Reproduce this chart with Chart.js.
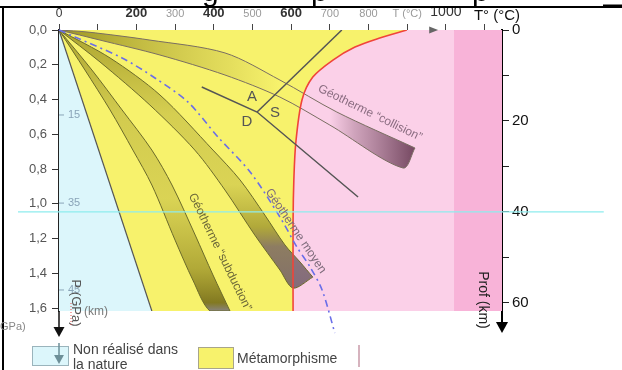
<!DOCTYPE html>
<html>
<head>
<meta charset="utf-8">
<script src="https://cdn.jsdelivr.net/npm/chart.js@4/dist/chart.umd.min.js"></script>
<style>
    html, body { margin: 0; padding: 0; background: #fff; }
</style>
</head>
<body>
<canvas id="chart" width="622" height="370"></canvas>
<script>
//======================================================================================================================
// Data (T in °C, P in GPa, depth in km)
//======================================================================================================================

    var tempTicks   = [0, 100, 200, 300, 400, 500, 600, 700, 800, 900, 1000, 1100];
    var tempLabels  = ['0', '', '200', '300', '400', '500', '600', '700', '800', 'T (°C)', '1000', ''];
    var pressTicks  = [0, 0.2, 0.4, 0.6, 0.8, 1.0, 1.2, 1.4, 1.6];
    var pressLabels = ['0,0', '0,2', '0,4', '0,6', '0,8', '1,0', '1,2', '1,4', '1,6'];
    var depthTicks  = [0, 10, 20, 30, 40, 50, 60];
    var depthLabels = ['0', '', '20', '', '40', '', '60'];
    var innerKm     = [['15', 0.489], ['35', 0.996], ['45', 1.496]];

    var solidus        = [[899, 0], [829, 0.046], [765, 0.098], [708, 0.173], [656, 0.271], [628, 0.403], [612, 0.650], [607, 0.863], [605, 1.094], [605, 1.617]];
    var nonRealised    = [[0, 0], [240, 1.617]];
    var geothermMoyen  = [[0, 0], [41, 0.040], [163, 0.161], [248, 0.276], [333, 0.414], [411, 0.616], [494, 0.817], [571, 1.076], [615, 1.249], [649, 1.364], [680, 1.496], [713, 1.744]];
    var collisionUpper = [[0, 0], [75, 0.012], [235, 0.058], [429, 0.132], [571, 0.288], [718, 0.472], [920, 0.679]];
    var collisionLower = [[0, 0], [106, 0.058], [261, 0.144], [429, 0.259], [571, 0.386], [700, 0.547], [889, 0.794], [920, 0.679]];
    var moyenUpper     = [[0, 0], [132, 0.161], [261, 0.374], [398, 0.691], [468, 0.863], [532, 1.065], [584, 1.237], [623, 1.335], [656, 1.422]];
    var moyenLower     = [[0, 0], [106, 0.184], [235, 0.432], [351, 0.691], [429, 0.921], [506, 1.180], [571, 1.381], [605, 1.485], [656, 1.422]];
    var subductUpper   = [[0, 0], [85, 0.230], [163, 0.460], [240, 0.691], [292, 0.892], [352, 1.180], [398, 1.410], [442, 1.617]];
    var subductLower   = [[0, 0], [67, 0.230], [132, 0.460], [191, 0.691], [240, 0.892], [300, 1.209], [346, 1.439], [390, 1.617], [442, 1.617]];
    var asdLine1       = [[369, 0.328], [512, 0.472], [773, 0.961]];
    var asdLine2       = [[512, 0.472], [731, 0]];
    var asdLabels      = [['A', 499, 0.386], ['S', 558, 0.478], ['D', 486, 0.530]];
    var geoLabels      = [
        ['Géotherme “collision”', 804, 0.478, 26, '#8a6c80'],
        ['Géotherme moyen', 612, 1.157, 56, '#7d6a7a'],
        ['Géotherme “subduction”', 416, 1.278, 64, '#6b6738']
    ];
    var moho = 40;

    var T_MAX = 1145, P_MAX = 1.617, D_MAX = 61.8;

    function pts(arr) {
        return arr.map(function(p) { return {x: p[0], y: p[1]}; });
    }

//======================================================================================================================
// Gradients
//======================================================================================================================

    function hGrad(chart, t0, t1, stops) {
        var xs = chart.scales.x;
        var g = chart.ctx.createLinearGradient(xs.getPixelForValue(t0), 0, xs.getPixelForValue(t1), 0);
        stops.forEach(function(s) { g.addColorStop(s[0], s[1]); });
        return g;
    }

    function vGrad(chart, stops) {
        var ys = chart.scales.y;
        var g = chart.ctx.createLinearGradient(0, ys.getPixelForValue(0), 0, ys.getPixelForValue(P_MAX));
        stops.forEach(function(s) { g.addColorStop(s[0], s[1]); });
        return g;
    }

    function ready(ctx) {
        return ctx.chart.chartArea && ctx.chart.scales.x && ctx.chart.scales.y;
    }

    function collisionFill(ctx) {
        if (!ready(ctx)) return 'transparent';
        return hGrad(ctx.chart, 0, 920, [
            [0, 'rgba(140,132,20,0.85)'], [0.22, 'rgba(150,140,30,0.55)'], [0.48, 'rgba(160,150,40,0.22)'],
            [0.62, 'rgba(160,150,40,0)'], [0.76, 'rgba(125,80,105,0)'], [0.83, 'rgba(125,80,105,0.35)'],
            [1, 'rgba(110,65,90,0.95)']
        ]);
    }

    function moyenFill(ctx) {
        if (!ready(ctx)) return 'transparent';
        return vGrad(ctx.chart, [
            [0, 'rgba(140,130,20,0.7)'], [0.3, 'rgba(150,140,30,0.35)'], [0.55, 'rgba(150,140,30,0.3)'],
            [0.7, 'rgba(130,120,25,0.6)'], [0.77, 'rgba(115,95,95,0.8)'], [1, 'rgba(110,90,110,0.9)']
        ]);
    }

    function subductFill(ctx) {
        if (!ready(ctx)) return 'transparent';
        return vGrad(ctx.chart, [
            [0, 'rgba(140,130,20,0.7)'], [0.3, 'rgba(150,140,30,0.38)'], [0.6, 'rgba(150,140,30,0.3)'],
            [0.85, 'rgba(130,120,20,0.6)'], [0.97, 'rgba(110,100,20,0.85)'], [1, 'rgba(125,120,130,0.9)']
        ]);
    }

//======================================================================================================================
// Overlay: frame, labels, arrows, legend
//======================================================================================================================

    function rotText(c, txt, x, y, deg, font, color) {
        c.save();
        c.translate(x, y);
        c.rotate(deg * Math.PI / 180);
        c.font = font;
        c.fillStyle = color;
        c.textAlign = 'center';
        c.textBaseline = 'middle';
        c.fillText(txt, 0, 0);
        c.restore();
    }

    function arrowDown(c, x, y0, y1, color, lw, head) {
        c.save();
        c.strokeStyle = color;
        c.fillStyle = color;
        c.lineWidth = lw;
        c.beginPath();
        c.moveTo(x, y0);
        c.lineTo(x, y1 - head);
        c.stroke();
        c.beginPath();
        c.moveTo(x - head * 0.55, y1 - head);
        c.lineTo(x + head * 0.55, y1 - head);
        c.lineTo(x, y1);
        c.closePath();
        c.fill();
        c.restore();
    }

    var overlay = {
        id: 'overlay',
        beforeDraw: function(chart) {
            var c = chart.ctx;
            c.save();
            c.fillStyle = '#fff';
            c.fillRect(0, 0, chart.width, chart.height);
            c.restore();
        },
        afterDraw: function(chart) {
            var c = chart.ctx;
            var xs = chart.scales.x, ys = chart.scales.y;
            var a = chart.chartArea;

            c.save();

            // cut-off title and frame
            c.fillStyle = '#000';
            c.font = '30px Arial';
            c.textAlign = 'left';
            c.textBaseline = 'alphabetic';
            c.fillText('g', 202, 1);
            c.fillText('p', 311, 1);
            c.fillText('p', 472, 1);
            c.strokeStyle = '#000';
            c.lineWidth = 2;
            c.beginPath();
            c.moveTo(0, 7); c.lineTo(622, 7);
            c.moveTo(3, 7); c.lineTo(3, 370);
            c.stroke();
            c.lineWidth = 3;
            c.beginPath();
            c.moveTo(603, 6); c.lineTo(622, 6);
            c.stroke();

            // top axis extras
            c.font = '15px Arial';
            c.fillStyle = '#111';
            c.textAlign = 'center';
            c.textBaseline = 'middle';
            c.fillText('T° (°C)', 497, 16);
            c.fillStyle = '#666';
            c.beginPath();
            var ax = xs.getPixelForValue(980);
            c.moveTo(ax, a.top); c.lineTo(ax - 9, a.top - 3.5); c.lineTo(ax - 9, a.top + 3.5);
            c.closePath();
            c.fill();

            // inner km marks on the pressure axis
            c.font = '11px Arial';
            c.textAlign = 'left';
            c.strokeStyle = '#8aa4b8';
            c.fillStyle = '#8aa4b8';
            c.lineWidth = 1;
            innerKm.forEach(function(k) {
                var y = ys.getPixelForValue(k[1]);
                c.beginPath(); c.moveTo(a.left, y); c.lineTo(a.left + 5, y); c.stroke();
                c.fillText(k[0], a.left + 9, y);
            });

            // A / S / D
            c.font = '15px Arial';
            c.fillStyle = '#555';
            c.textAlign = 'center';
            asdLabels.forEach(function(l) {
                c.fillText(l[0], xs.getPixelForValue(l[1]), ys.getPixelForValue(l[2]));
            });

            // geotherm names
            geoLabels.forEach(function(l) {
                rotText(c, l[0], xs.getPixelForValue(l[1]), ys.getPixelForValue(l[2]), l[3], '12px Arial', l[4]);
            });

            // axis arrows
            arrowDown(c, a.left, a.bottom, 337, '#111', 1.5, 10);
            arrowDown(c, a.right, a.bottom, 333, '#000', 2, 11);

            // axis titles
            rotText(c, 'P (GPa)', 76, 303, 90, '13px Arial', '#555');
            rotText(c, 'Prof (km)', 483, 300, 90, '14px Arial', '#222');
            c.font = '12px Arial';
            c.fillStyle = '#777';
            c.textAlign = 'left';
            c.fillText('(km)', 84, 312);
            c.font = '11px Arial';
            c.fillStyle = '#888';
            c.fillText('GPa)', 0, 327);
            c.strokeStyle = '#e05050';
            c.setLineDash([1, 2]);
            c.beginPath(); c.moveTo(71, 303); c.lineTo(71, 327); c.stroke();
            c.setLineDash([]);

            // legend
            c.lineWidth = 1;
            c.fillStyle = '#dcf6fb';
            c.strokeStyle = '#9ab4bc';
            c.fillRect(32, 346, 36, 19);
            c.strokeRect(32.5, 346.5, 36, 19);
            arrowDown(c, a.left, 343, 364, '#6d8f98', 1.5, 9);
            c.fillStyle = '#f7f26c';
            c.strokeStyle = '#a8a58a';
            c.fillRect(198, 347, 35, 21);
            c.strokeRect(198.5, 347.5, 35, 21);
            c.font = '14px Arial';
            c.fillStyle = '#444';
            c.textAlign = 'left';
            c.textBaseline = 'alphabetic';
            c.fillText('Non réalisé dans', 73, 354);
            c.fillText('la nature', 73, 369);
            c.fillText('Métamorphisme', 237, 363);
            c.strokeStyle = '#c89aa8';
            c.lineWidth = 1.5;
            c.beginPath(); c.moveTo(359, 345); c.lineTo(359, 367); c.stroke();

            c.restore();
        }
    };

//======================================================================================================================
// Chart
//======================================================================================================================

    function ds(data, extra) {
        var d = {data: pts(data), pointRadius: 0, borderWidth: 0, tension: 0, fill: false};
        Object.keys(extra).forEach(function(k) { d[k] = extra[k]; });
        return d;
    }

    var datasets = [
        ds([[-106, moho], [1408, moho]], {yAxisID: 'depth', borderColor: '#8eecee', borderWidth: 1.2, clip: false, order: 0}),
        ds(geothermMoyen, {borderColor: '#6a6ee8', borderWidth: 1.6, borderDash: [7, 4, 2, 4], tension: 0.3, clip: false, order: 1}),
        ds(asdLine1, {borderColor: '#555', borderWidth: 1.5, order: 2}),
        ds(asdLine2, {borderColor: '#555', borderWidth: 1.5, order: 2}),
        ds(solidus, {borderColor: '#f0443a', borderWidth: 1.6, tension: 0.3, order: 3}),
        ds(collisionUpper, {borderColor: '#7a6e62', borderWidth: 1, tension: 0.3, order: 4}),
        ds(collisionLower, {borderColor: '#7a6e62', borderWidth: 1, tension: 0.3, order: 4, fill: 5, backgroundColor: collisionFill}),
        ds(moyenUpper, {borderColor: '#6b6a2a', borderWidth: 1, tension: 0.3, order: 4}),
        ds(moyenLower, {borderColor: '#6b6a2a', borderWidth: 1, tension: 0.3, order: 4, fill: 7, backgroundColor: moyenFill}),
        ds(subductUpper, {borderColor: '#6b6a2a', borderWidth: 1, tension: 0.3, order: 4}),
        ds(subductLower, {borderColor: '#6b6a2a', borderWidth: 1, tension: 0.3, order: 4, fill: 9, backgroundColor: subductFill}),
        ds(nonRealised, {borderColor: '#555', borderWidth: 1.2, order: 6, fill: 'start', backgroundColor: '#dcf6fb'}),
        ds([[0, P_MAX], [605, P_MAX]].concat(solidus.slice().reverse()), {tension: 0.3, order: 7, fill: 'end', backgroundColor: '#f7f26c'}),
        ds([[0, P_MAX], [1021, P_MAX]], {order: 8, fill: 'end', backgroundColor: '#fbd0e8'}),
        ds([[1021, P_MAX], [T_MAX, P_MAX]], {order: 8, fill: 'end', backgroundColor: '#f8b3d8'})
    ];

    function tickVal(ctx, list) {
        if (ctx.tick) return ctx.tick.value;
        return list[ctx.index];
    }

    function darkTemp(v) { return v === 0 || v === 200 || v === 400 || v === 600 || v === 1000; }

    new Chart(document.getElementById('chart'), {
        type: 'line',
        data: {datasets: datasets},
        plugins: [overlay],
        options: {
            responsive: false,
            animation: false,
            devicePixelRatio: 1,
            layout: {padding: {top: 0, left: 0, right: 0, bottom: 59}},
            plugins: {
                legend: {display: false},
                tooltip: {enabled: false}
            },
            scales: {
                x: {
                    type: 'linear', position: 'top', min: 0, max: T_MAX, z: 1,
                    afterBuildTicks: function(axis) { axis.ticks = tempTicks.map(function(v) { return {value: v}; }); },
                    afterFit: function(axis) { axis.height = 30; },
                    ticks: {
                        autoSkip: false, maxRotation: 0, padding: 3,
                        callback: function(v, i) { return tempLabels[i]; },
                        color: function(ctx) { return darkTemp(tickVal(ctx, tempTicks)) ? '#333' : '#9a9a9a'; },
                        font: function(ctx) {
                            var v = tickVal(ctx, tempTicks);
                            if (v === 1000) return {family: 'Arial', size: 14};
                            if (v === 0) return {family: 'Arial', size: 12};
                            if (darkTemp(v)) return {family: 'Arial', size: 13, weight: 'bold'};
                            return {family: 'Arial', size: 11};
                        }
                    },
                    grid: {drawOnChartArea: false, tickLength: 6, tickColor: '#444'},
                    border: {color: '#555', width: 1}
                },
                y: {
                    type: 'linear', position: 'left', reverse: true, min: 0, max: P_MAX, z: 1,
                    afterBuildTicks: function(axis) { axis.ticks = pressTicks.map(function(v) { return {value: v}; }); },
                    afterFit: function(axis) { axis.width = 59; },
                    ticks: {
                        padding: 5, color: '#555', font: {family: 'Arial', size: 13},
                        callback: function(v, i) { return pressLabels[i]; }
                    },
                    grid: {drawOnChartArea: false, tickLength: 7, tickColor: '#333'},
                    border: {color: '#222', width: 1.5}
                },
                depth: {
                    type: 'linear', position: 'right', reverse: true, min: 0, max: D_MAX, z: 1,
                    afterBuildTicks: function(axis) { axis.ticks = depthTicks.map(function(v) { return {value: v}; }); },
                    afterFit: function(axis) { axis.width = 120; },
                    ticks: {
                        padding: 3, color: '#111', font: {family: 'Arial', size: 15},
                        callback: function(v, i) { return depthLabels[i]; }
                    },
                    grid: {drawOnChartArea: false, tickLength: 7, tickColor: '#222'},
                    border: {color: '#000', width: 2}
                }
            }
        }
    });
</script>
</body>
</html>
